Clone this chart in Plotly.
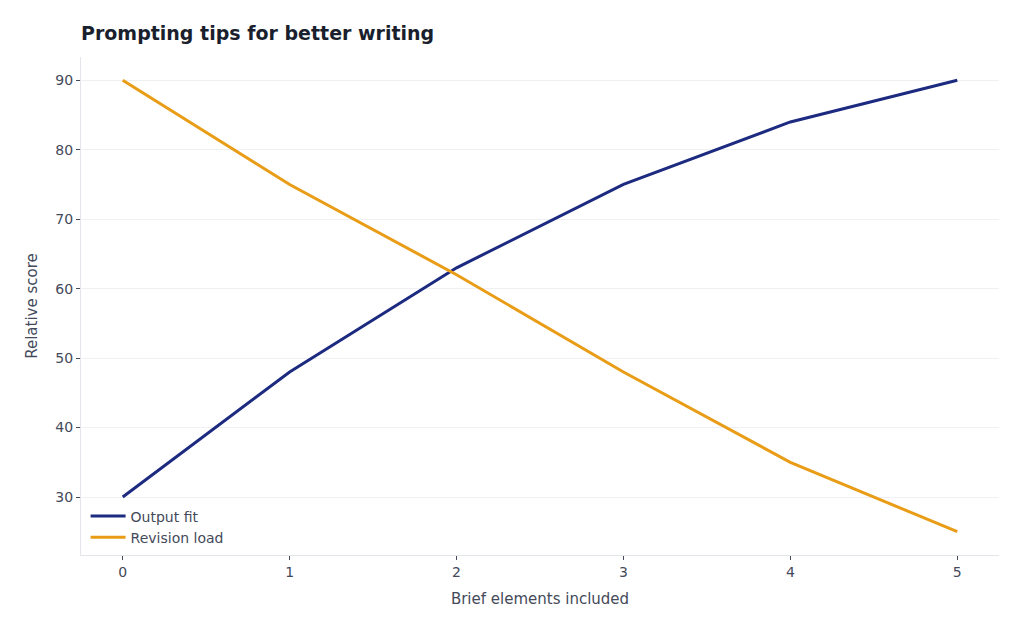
import plotly.graph_objects as go

x_vals = [0, 1, 2, 3, 4, 5]
output_fit = [30, 48, 63, 75, 84, 90]
revision_load = [90, 75, 62, 48, 35, 25]
series_names = ["Output fit", "Revision load"]

fig = go.Figure()
fig.add_trace(go.Scatter(x=x_vals, y=output_fit, mode="lines", name=series_names[0],
                         line=dict(color="#1c2a80", width=3)))
fig.add_trace(go.Scatter(x=x_vals, y=revision_load, mode="lines", name=series_names[1],
                         line=dict(color="#e99c16", width=3)))

fig.update_layout(
    width=1008, height=615,
    margin=dict(l=73, r=17, t=49, b=68),
    paper_bgcolor="white", plot_bgcolor="white",
    font=dict(family="DejaVu Sans", size=14, color="#444a5a"),
    title=dict(text="<b>Prompting tips for better writing</b>", x=0, xref="paper", xanchor="left",
               y=1 - 25 / 615, yanchor="middle", font=dict(size=19, color="#1a1f2e")),
    legend=dict(x=0.005, y=0.003, xanchor="left", yanchor="bottom", bgcolor="rgba(255,255,255,0)",
                itemwidth=35, font=dict(size=14, color="#444a5a")),
    xaxis=dict(title=dict(text="Brief elements included", standoff=14, font=dict(size=15)),
               range=[-0.25, 5.25], tickfont=dict(size=14),
               tickmode="array", tickvals=x_vals, showgrid=False, showline=True, linecolor="#e3e5ea",
               ticks="outside", ticklen=4, tickcolor="#444a5a", zeroline=False),
    yaxis=dict(title=dict(text="Relative score", standoff=14, font=dict(size=15)),
               range=[21.65, 93.35], tickfont=dict(size=14),
               tickvals=[30, 40, 50, 60, 70, 80, 90], showgrid=True, gridcolor="#eef0f3",
               showline=True, linecolor="#e3e5ea", ticks="outside", ticklen=4, tickcolor="#444a5a",
               zeroline=False),
)

fig.write_html("out.html")
